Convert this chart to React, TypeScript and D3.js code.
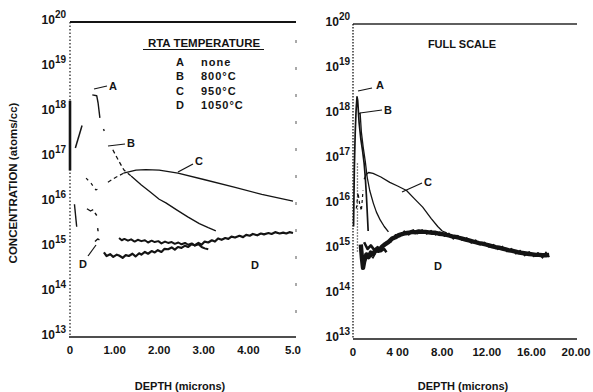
import React from 'react';
import * as d3 from 'd3';

// ---------- tick data ----------
const yDecades = [13, 14, 15, 16, 17, 18, 19, 20];
const leftXTicks = [0, 1, 2, 3, 4, 5];
const leftXTickLabels = ['0', '1.00', '2.00', '3.00', '4.00', '5.0'];
const rightXTicks = [0, 4, 8, 12, 16, 20];
const rightXTickLabels = ['0', '4 00', '8.00', '12.00', '16.00', '20.00'];

const legendLetters = ['A', 'B', 'C', 'D'];
const legendTemps = ['none', '800°C', '950°C', '1050°C'];

// ---------- left panel (depth µm, log10 atoms/cc) ----------
const leftSurface = [[0.0, 18.25], [0.0, 16.7]];
const leftSurfaceDiag = [[0.12, 17.2], [0.27, 17.7]];
const leftA = [[0.5, 18.38], [0.6, 18.36], [0.63, 18.2], [0.67, 17.87]];
const leftADot = [[0.75, 17.62], [0.77, 17.58]];
const leftBDash = [[0.96, 17.16], [1.1, 16.9], [1.21, 16.71], [1.37, 16.58]];
const leftB = [[1.37, 16.58], [1.6, 16.38], [1.8, 16.22], [2.0, 16.06], [2.15, 15.98], [2.4, 15.82], [2.64, 15.67], [2.9, 15.52], [3.1, 15.43], [3.27, 15.36]];
const leftCDash = [[0.36, 16.53], [0.47, 16.42], [0.58, 16.27], [0.65, 16.3]];
const leftCDash2 = [[0.85, 16.44], [1.03, 16.55], [1.2, 16.64]];
const leftC = [[1.2, 16.64], [1.48, 16.71], [1.7, 16.72], [2.0, 16.71], [2.42, 16.64], [3.0, 16.5], [3.68, 16.33], [4.3, 16.17], [5.0, 16.02]];
const leftDBits = [
  [[0.1, 15.95], [0.15, 15.45]],
  [[0.38, 15.85], [0.46, 15.8], [0.52, 15.83]],
  [[0.56, 15.76], [0.6, 15.7]],
  [[0.62, 15.42], [0.63, 15.35]],
  [[0.56, 15.12], [0.62, 15.18], [0.66, 15.16]],
];
const leftATail = [[1.1, 15.2], [1.16, 15.15], [1.22, 15.18], [1.3, 15.14], [1.37, 15.17], [1.45, 15.12], [1.52, 15.16], [1.6, 15.13], [1.68, 15.15], [1.75, 15.1], [1.83, 15.14], [1.9, 15.11], [1.98, 15.13], [2.05, 15.08], [2.13, 15.12], [2.2, 15.09], [2.28, 15.11], [2.35, 15.07], [2.43, 15.1], [2.5, 15.06], [2.58, 15.09], [2.65, 15.05], [2.73, 15.08], [2.8, 15.03], [2.88, 15.06], [2.95, 15.0], [3.02, 14.97], [3.1, 14.95]];
const leftD = [[0.76, 14.88], [0.82, 14.8], [0.9, 14.84], [0.97, 14.78], [1.05, 14.83], [1.1, 14.81], [1.18, 14.76], [1.25, 14.82], [1.32, 14.8], [1.4, 14.85], [1.47, 14.79], [1.55, 14.86], [1.6, 14.83], [1.68, 14.89], [1.75, 14.85], [1.83, 14.91], [1.9, 14.88], [1.97, 14.93], [2.05, 14.89], [2.12, 14.96], [2.2, 14.95], [2.28, 14.99], [2.35, 14.94], [2.42, 15.0], [2.5, 14.98], [2.58, 15.03], [2.65, 15.0], [2.72, 15.06], [2.8, 15.04], [2.88, 15.09], [2.95, 15.05], [3.02, 15.12], [3.1, 15.1], [3.18, 15.15], [3.25, 15.12], [3.32, 15.19], [3.4, 15.16], [3.48, 15.2], [3.55, 15.18], [3.62, 15.23], [3.7, 15.21], [3.8, 15.25], [3.88, 15.22], [3.95, 15.27], [4.03, 15.25], [4.1, 15.29], [4.2, 15.26], [4.28, 15.3], [4.35, 15.28], [4.45, 15.31], [4.52, 15.29], [4.6, 15.33], [4.7, 15.3], [4.78, 15.32], [4.85, 15.3], [4.92, 15.33], [5.0, 15.31]];

// ---------- right panel (full scale) ----------
const rightA = [[0.05, 15.5], [0.12, 16.8], [0.2, 17.6], [0.28, 18.1], [0.36, 18.38], [0.42, 18.3], [0.55, 17.8], [0.7, 17.45], [0.85, 17.2], [1.0, 16.9], [1.1, 16.6], [1.2, 16.2], [1.3, 15.7], [1.36, 15.4]];
const rightB = [[0.5, 18.0], [0.64, 18.02], [0.75, 17.6], [0.91, 17.27], [1.1, 16.95], [1.27, 16.6], [1.5, 16.3], [1.82, 16.02], [2.1, 15.82], [2.45, 15.64], [2.8, 15.5], [3.18, 15.38]];
const rightCDash = [[0.3, 15.9], [0.45, 16.25], [0.6, 16.0], [0.75, 15.85], [0.9, 16.3]];
const rightC = [[1.0, 16.55], [1.2, 16.66], [1.4, 16.7], [1.8, 16.68], [2.5, 16.6], [3.3, 16.48], [4.0, 16.4], [4.8, 16.3], [5.5, 16.12], [6.25, 15.93], [7.0, 15.68], [7.6, 15.5], [8.0, 15.4], [8.4, 15.36]];
const rightDotCol = [[0.4, 16.9], [0.4, 14.9]];
const rightATail = [[1.0, 15.15], [1.3, 15.0], [1.6, 15.08], [1.9, 14.98], [2.2, 15.04], [2.5, 14.95], [2.8, 15.0], [3.0, 14.93]];
const rightD = [[0.7, 15.1], [0.8, 14.8], [0.9, 14.58], [1.0, 14.72], [1.2, 14.88], [1.4, 14.82], [1.6, 14.92], [1.8, 14.88], [2.0, 14.97], [2.3, 14.96], [2.6, 15.05], [2.9, 15.11], [3.2, 15.16], [3.5, 15.23], [3.8, 15.26], [4.1, 15.31], [4.4, 15.33], [4.7, 15.35], [5.0, 15.36], [5.3, 15.38], [5.6, 15.37], [5.9, 15.39], [6.2, 15.38], [6.5, 15.38], [6.8, 15.37], [7.1, 15.36], [7.4, 15.36], [7.7, 15.34], [8.0, 15.33], [8.3, 15.32], [8.6, 15.3], [8.9, 15.28], [9.2, 15.27], [9.5, 15.25], [9.8, 15.23], [10.1, 15.21], [10.4, 15.19], [10.7, 15.17], [11.0, 15.15], [11.3, 15.13], [11.6, 15.12], [11.9, 15.1], [12.2, 15.08], [12.5, 15.06], [12.8, 15.04], [13.1, 15.03], [13.4, 15.01], [13.7, 14.99], [14.0, 14.97], [14.3, 14.96], [14.6, 14.94], [14.9, 14.92], [15.2, 14.91], [15.5, 14.9], [15.8, 14.89], [16.1, 14.88], [16.4, 14.87], [16.7, 14.87], [17.0, 14.86], [17.3, 14.86], [17.6, 14.87]];
const rightDRough = [[1.0, 14.78], [1.4, 14.9], [1.8, 14.8], [2.2, 14.99], [2.6, 15.0], [3.0, 15.16], [3.4, 15.15], [3.8, 15.32], [4.2, 15.27], [4.6, 15.4], [5.0, 15.31], [5.4, 15.43], [5.8, 15.34], [6.2, 15.43], [6.6, 15.33], [7.0, 15.41], [7.4, 15.31], [7.8, 15.38], [8.2, 15.28], [8.6, 15.35], [9.0, 15.22], [9.4, 15.3], [9.8, 15.19], [10.2, 15.25], [10.6, 15.13], [11.0, 15.2], [11.4, 15.09], [11.8, 15.15], [12.2, 15.04], [12.6, 15.1], [13.0, 14.99], [13.4, 15.06], [13.8, 14.94], [14.2, 15.01], [14.6, 14.89], [15.0, 14.97], [15.4, 14.85], [15.8, 14.94], [16.2, 14.83], [16.6, 14.92], [17.0, 14.8], [17.3, 14.93], [17.6, 14.82]];

const FONT = '"Liberation Sans", Arial, Helvetica, sans-serif';
const INK = '#141414';

export default function App() {
  const xL = d3.scaleLinear().domain([0, 5]).range([70, 293]);
  const yL = d3.scaleLog().domain([1e13, 1e20]).range([337, 22]);
  const xR = d3.scaleLinear().domain([0, 20]).range([353, 576]);
  const yR = d3.scaleLog().domain([1e13, 1e20]).range([339, 24]);

  const lineL = d3.line<number[]>().x((d) => xL(d[0])).y((d) => yL(Math.pow(10, d[1])));
  const lineR = d3.line<number[]>().x((d) => xR(d[0])).y((d) => yR(Math.pow(10, d[1])));

  const leftPaths: { data: number[][]; w: number; dash?: string }[] = [
    { data: leftSurface, w: 2.6 },
    { data: leftSurfaceDiag, w: 1.5 },
    { data: leftA, w: 1.4 },
    { data: leftADot, w: 1.4 },
    { data: leftBDash, w: 1.3, dash: '4,3' },
    { data: leftB, w: 1.3 },
    { data: leftCDash, w: 1.2, dash: '3,4' },
    { data: leftCDash2, w: 1.2, dash: '4,3' },
    { data: leftC, w: 1.3 },
    { data: leftATail, w: 2.0 },
    { data: leftD, w: 2.2 },
    ...leftDBits.map((b) => ({ data: b, w: 1.4 })),
  ];
  const rightPaths: { data: number[][]; w: number; dash?: string }[] = [
    { data: rightDotCol, w: 1.3, dash: '1,2' },
    { data: rightA, w: 1.7 },
    { data: rightB, w: 1.3 },
    { data: rightCDash, w: 1.2, dash: '3,3' },
    { data: rightC, w: 1.3 },
    { data: rightATail, w: 2.6 },
    { data: rightD, w: 4.4 },
    { data: rightDRough, w: 1.3 },
  ];

  const txt = (x: number, y: number, s: string, size = 11, anchor = 'middle', extra: any = {}) => (
    <text x={x} y={y} fontSize={size} fontWeight="bold" textAnchor={anchor} fontFamily={FONT} fill={INK} {...extra}>
      {s}
    </text>
  );

  const yLabel = (x: number, y: number, e: number, key: string) => (
    <text key={key} x={x} y={y + 2} textAnchor="end" fontFamily={FONT} fontWeight="bold" fill={INK}>
      <tspan fontSize={12}>10</tspan>
      <tspan fontSize={10} dy={-6}>{e}</tspan>
    </text>
  );

  return (
    <div style={{ position: 'absolute', left: 0, top: 0 }}>
      <svg width={593} height={392} style={{ display: 'block', background: '#fff' }}>
        {/* ---------- left panel frame ---------- */}
        <line x1={70} x2={296} y1={22} y2={22} stroke={INK} strokeWidth={1.8} />
        <line x1={70} x2={70} y1={22} y2={337} stroke={INK} strokeWidth={1.2} strokeDasharray="1.5,2" />
        <line x1={69} x2={296} y1={337} y2={337} stroke={INK} strokeWidth={1.5} />
        <line x1={296} x2={296} y1={40} y2={330} stroke="#555" strokeWidth={1} strokeDasharray="3,24" />
        {yDecades.map((e) => yLabel(66, yL(Math.pow(10, e)), e, 'l' + e))}
        {leftXTicks.map((t, i) => (
          <text key={'lx' + t} x={xL(t)} y={354} fontSize={11.5} fontWeight="bold" textAnchor="middle" fontFamily={FONT} fill={INK}>
            {leftXTickLabels[i]}
          </text>
        ))}

        {/* ---------- right panel frame ---------- */}
        <line x1={353} x2={577} y1={24} y2={24} stroke="#2a2a2a" strokeWidth={1.5} />
        <line x1={353} x2={353} y1={24} y2={339} stroke={INK} strokeWidth={1.3} strokeDasharray="1.5,1.5" />
        <line x1={353} x2={577} y1={339} y2={339} stroke={INK} strokeWidth={1.5} />
        {yDecades.map((e) => yLabel(350, yR(Math.pow(10, e)), e, 'r' + e))}
        {rightXTicks.map((t, i) => (
          <text key={'rx' + t} x={xR(t)} y={356} fontSize={11.5} fontWeight="bold" textAnchor="middle" fontFamily={FONT} fill={INK}>
            {rightXTickLabels[i]}
          </text>
        ))}

        {/* ---------- curves ---------- */}
        <g fill="none" stroke={INK} strokeLinejoin="round">
          {leftPaths.map((p, i) => (
            <path key={'lp' + i} d={lineL(p.data) || ''} strokeWidth={p.w} strokeDasharray={p.dash} />
          ))}
          {rightPaths.map((p, i) => (
            <path key={'rp' + i} d={lineR(p.data) || ''} strokeWidth={p.w} strokeDasharray={p.dash} />
          ))}
        </g>

        {/* ---------- annotations, left ---------- */}
        {txt(204, 47, 'RTA TEMPERATURE', 11.5)}
        <line x1={143} x2={264} y1={49.5} y2={49.5} stroke={INK} strokeWidth={1.2} />
        {legendLetters.map((l, i) => (
          <g key={'lg' + l}>
            {txt(180, 66 + i * 14.3, l, 11)}
            {txt(201, 66 + i * 14.3, legendTemps[i], 11, 'start', { letterSpacing: 1 })}
          </g>
        ))}
        <g stroke={INK} strokeWidth={1.2}>
          <line x1={94} y1={89} x2={107} y2={86} />
          <line x1={108} y1={146} x2={125} y2={144} />
          <line x1={178} y1={172} x2={193} y2={164} />
          <line x1={88} y1={256} x2={96} y2={245} />
          <line x1={358} y1={91} x2={372} y2={88} />
          <line x1={360} y1={113} x2={382} y2={110} />
          <line x1={402} y1={192} x2={422} y2={183} />
        </g>
        {txt(113, 90, 'A', 11)}
        {txt(131, 147, 'B', 11)}
        {txt(199, 165, 'C', 11)}
        {txt(83, 268, 'D', 11)}
        {txt(255, 269, 'D', 11)}

        {/* ---------- annotations, right ---------- */}
        {txt(462, 48, 'FULL SCALE', 11)}
        {txt(380, 89, 'A', 11)}
        {txt(388, 114, 'B', 11)}
        {txt(428, 186, 'C', 11)}
        {txt(438, 270, 'D', 11)}

        {/* ---------- axis titles ---------- */}
        <text transform="translate(17,183) rotate(-90)" fontSize={11.5} fontWeight="bold" textAnchor="middle" fontFamily={FONT} fill={INK}>
          CONCENTRATION (atoms/cc)
        </text>
        {txt(180, 390, 'DEPTH (microns)', 11)}
        {txt(463, 390, 'DEPTH (microns)', 11)}
      </svg>
    </div>
  );
}
